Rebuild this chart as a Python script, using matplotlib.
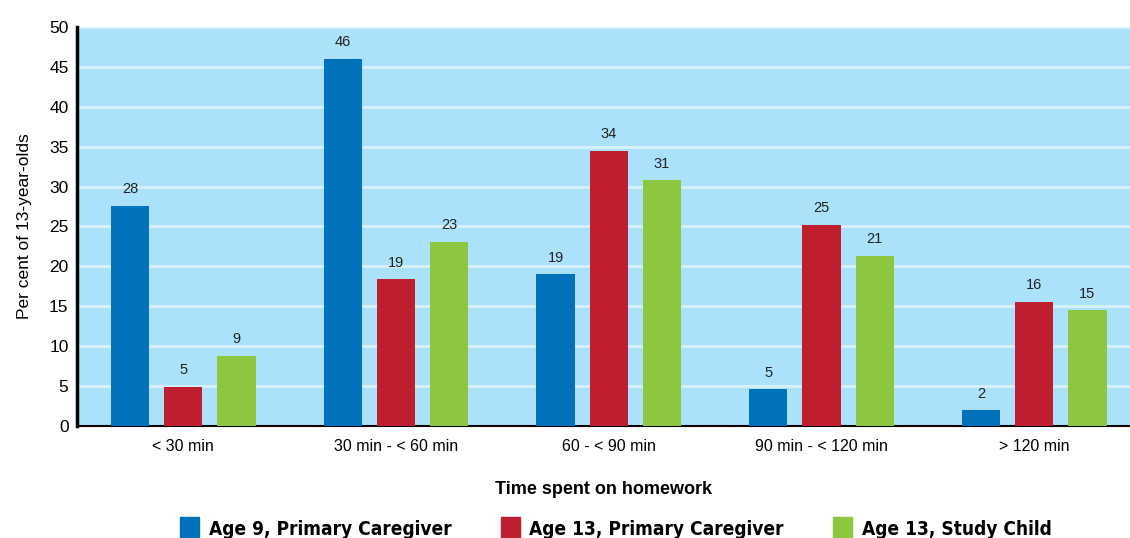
import numpy as np
import matplotlib.pyplot as plt
from matplotlib.patches import Patch
from matplotlib import font_manager

plt.rcParams['font.family'] = ['Liberation Sans', 'DejaVu Sans']

# homework time categories
categories = ['< 30 min', '30 min - < 60 min', '60 - < 90 min', '90 min - < 120 min', '> 120 min']
series_names = ['Age 9, Primary Caregiver', 'Age 13, Primary Caregiver', 'Age 13, Study Child']

# bar heights and printed labels
age9_pcg = [27.6, 46.0, 19.0, 4.6, 2.0]
age13_pcg = [4.9, 18.4, 34.5, 25.2, 15.6]
age13_child = [8.8, 23.1, 30.8, 21.3, 14.5]
age9_pcg_lbl = [28, 46, 19, 5, 2]
age13_pcg_lbl = [5, 19, 34, 25, 16]
age13_child_lbl = [9, 23, 31, 21, 15]

colors = ['#0071ba', '#bf1e2e', '#8dc63f']

fig = plt.figure(figsize=(11.3, 5.38), dpi=100)
ax = fig.add_axes([0.068, 0.208, 0.932, 0.742])
ax.set_facecolor('#abe1fa')

x = np.arange(len(categories))
offset = 0.25
width = 0.18
series = [age9_pcg, age13_pcg, age13_child]
labels = [age9_pcg_lbl, age13_pcg_lbl, age13_child_lbl]

for i, (vals, lbls) in enumerate(zip(series, labels)):
    pos = x + (i - 1) * offset
    ax.bar(pos, vals, width, color=colors[i], zorder=3)
    for px, v, l in zip(pos, vals, lbls):
        ax.text(px, v + 1.2, str(l), ha='center', va='bottom', fontsize=10.5, color='#222222')

ax.set_xlim(-0.5, 4.45)
ax.set_ylim(0, 50)
ax.set_yticks(range(0, 51, 5))
ax.set_xticks(x)
ax.set_xticklabels(categories)
ax.tick_params(axis='y', length=0, labelsize=12.5, pad=6)
ax.tick_params(axis='x', length=0, pad=9, labelsize=11.5)
ax.yaxis.grid(True, color='#d8f0fc', linewidth=2, zorder=1)

for s in ['top', 'right']:
    ax.spines[s].set_visible(False)
ax.spines['left'].set_linewidth(2.5)
ax.spines['bottom'].set_linewidth(1.5)

ax.set_ylabel('Per cent of 13-year-olds', fontsize=12.5, labelpad=12)
ax.set_xlabel('Time spent on homework', fontsize=13, fontweight='bold', labelpad=20)

# condensed bold legend text
leg_prop = font_manager.FontProperties(family='DejaVu Sans', weight='bold', stretch='condensed', size=13.7)
handles = [Patch(color=c) for c in colors]
fig.legend(handles, series_names, loc='lower center', bbox_to_anchor=(0.545, -0.035), ncol=3,
           frameon=False, handlelength=1.0, handleheight=1.45, columnspacing=2.6, handletextpad=0.5,
           prop=leg_prop)

fig.savefig('out.png', dpi=100)
